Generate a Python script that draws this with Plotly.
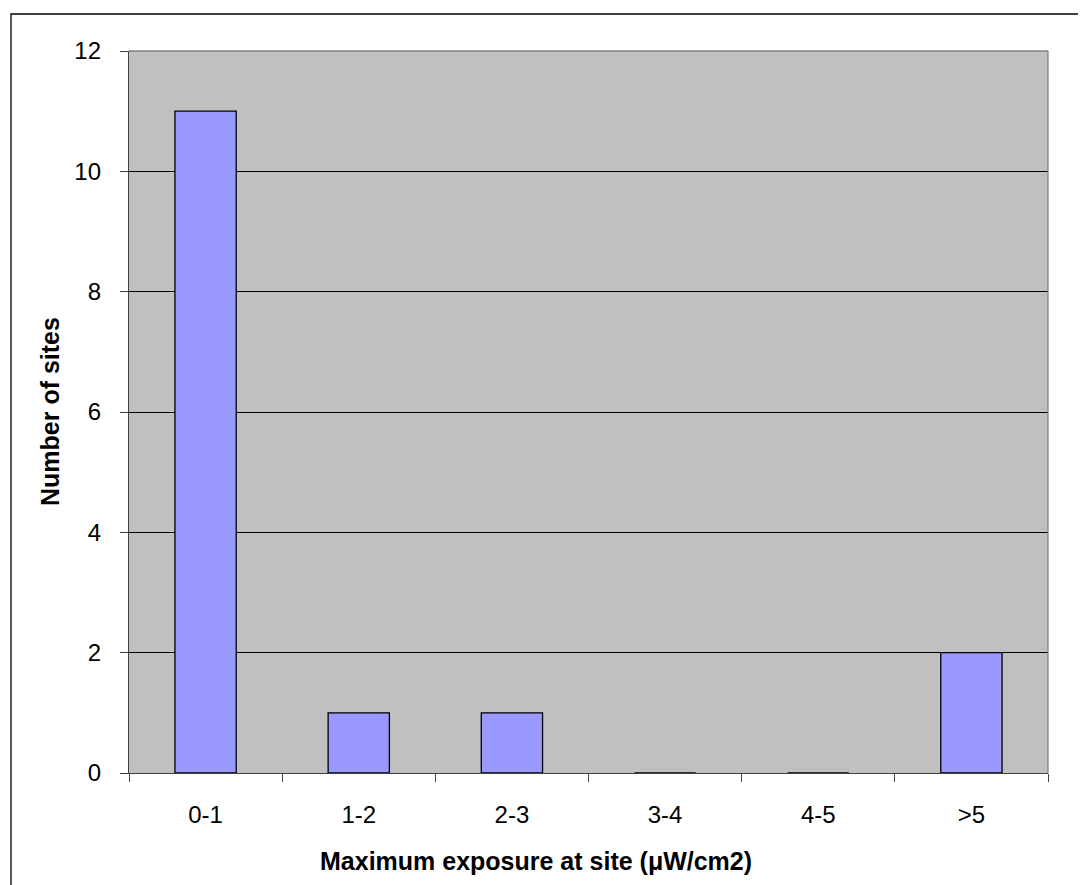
import plotly.graph_objects as go

categories = ["0-1", "1-2", "2-3", "3-4", "4-5", ">5"]
sites = [11, 1, 1, 0, 0, 2]
y_ticks = [0, 2, 4, 6, 8, 10, 12]

# page has an 8px body margin; work in reference-pixel coords and shift
OFF = 8
W, H = 1086 - OFF, 885 - OFF
L, R, T, B = 129 - OFF, 1048 - OFF, 51 - OFF, 773 - OFF
pw, ph = R - L, B - T

def px(x):
    return (x - OFF - L) / pw

def py(y):
    return (B - (y - OFF)) / ph

FONT = "Liberation Sans, Arial, sans-serif"

fig = go.Figure()
fig.add_trace(go.Bar(
    x=categories, y=sites, width=0.4,
    marker=dict(color="#9999FF", line=dict(color="black", width=1.3)),
))

fig.update_layout(
    width=W, height=H,
    margin=dict(l=L, r=W - R, t=T, b=H - B, pad=0),
    paper_bgcolor="white", plot_bgcolor="#C0C0C0",
    showlegend=False,
    font=dict(family=FONT, size=24, color="black"),
)
fig.update_xaxes(
    type="category", range=[-0.5, 5.5],
    showgrid=False, showline=True, linecolor="#404040", linewidth=1.3,
    ticks="outside", ticklen=8, tickcolor="#404040", tickwidth=1,
    tickson="boundaries", ticklabelstandoff=20,
    tickfont=dict(family=FONT, size=24),
)
fig.update_yaxes(
    range=[0, 12], tickvals=y_ticks,
    showgrid=True, gridcolor="black", gridwidth=1,
    showline=True, linecolor="#404040", linewidth=1.3,
    ticks="outside", ticklen=8, tickcolor="#404040", tickwidth=1,
    ticklabelstandoff=14, zeroline=False,
    tickfont=dict(family=FONT, size=24),
)
# plot area border (top/right gray)
fig.add_shape(type="line", xref="paper", yref="paper", x0=0, x1=1, y0=1, y1=1,
              line=dict(color="#808080", width=1.3))
fig.add_shape(type="line", xref="paper", yref="paper", x0=1, x1=1, y0=0, y1=1,
              line=dict(color="#808080", width=1.3))
# outer chart border
fig.add_shape(type="rect", xref="paper", yref="paper",
              x0=px(11), x1=px(1086 + 20), y0=py(885 + 20), y1=py(14),
              line=dict(color="black", width=1.3), layer="below")

fig.add_annotation(text="<b>Maximum exposure at site (μW/cm2)</b>",
                   xref="paper", yref="paper", x=px(536), y=py(861),
                   xanchor="center", yanchor="middle", showarrow=False,
                   font=dict(family=FONT, size=25, color="black"))
fig.add_annotation(text="<b>Number of sites</b>", textangle=-90,
                   xref="paper", yref="paper", x=px(50), y=py(412),
                   xanchor="center", yanchor="middle", showarrow=False,
                   font=dict(family=FONT, size=25, color="black"))

fig.write_html("out.html")
